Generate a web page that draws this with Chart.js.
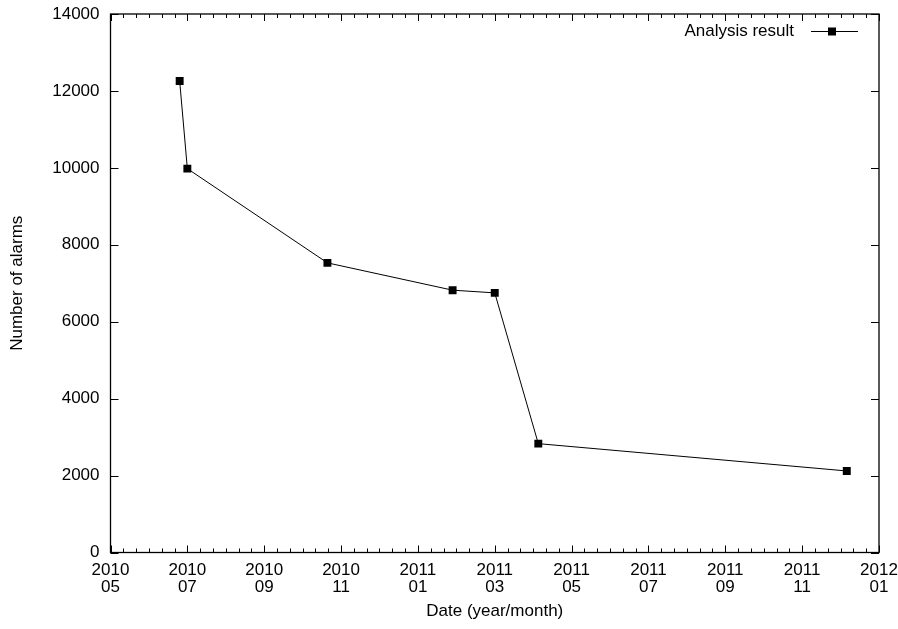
<!DOCTYPE html>
<html>
<head>
<meta charset="utf-8">
<script src="https://cdn.jsdelivr.net/npm/chart.js@4/dist/chart.umd.min.js"></script>
<style>
  html, body { margin: 0; padding: 0; background: #fff; }
  #wrap { width: 898px; height: 629px; }
</style>
</head>
<body>
<div id="wrap"><canvas id="alarmChart"></canvas></div>
<script>
// dates of each analysis run and the alarm count it produced
const DATES  = ['2010-06-25', '2010-07-01', '2010-10-21', '2011-01-29', '2011-03-01', '2011-04-05', '2011-12-06'];
const ALARMS = [12260, 9980, 7530, 6820, 6750, 2830, 2120];

const SERIES_LABEL = 'Analysis result';
const X_TITLE = 'Date (year/month)';
const Y_TITLE = 'Number of alarms';

// x axis runs in months counted from 2010/05
const START_YEAR = 2010, START_MONTH = 5;
const X_MAX = 20;

function monthsFromStart(str) {
  const [y, m, d] = str.split('-').map(Number);
  const days = new Date(y, m, 0).getDate();
  return (y - START_YEAR) * 12 + (m - START_MONTH) + (d - 1) / days;
}

function tickLabel(v) {
  const total = START_MONTH - 1 + Math.round(v);
  const y = START_YEAR + Math.floor(total / 12);
  const m = (total % 12) + 1;
  return [String(y), String(m).padStart(2, '0')];
}

const points = DATES.map((d, i) => ({ x: monthsFromStart(d), y: ALARMS[i] }));

const FONT = 'Liberation Sans, Arial, Helvetica, sans-serif';

// gnuplot style frame: box + inward ticks on all four sides
const framePlugin = {
  id: 'frame',
  afterDatasetsDraw(chart) {
    const { ctx, chartArea: a, scales: { x, y } } = chart;
    ctx.save();
    ctx.strokeStyle = '#000';
    ctx.lineWidth = 1;
    ctx.beginPath();
    for (let k = 0; k <= X_MAX * 3; k++) {
      const px = Math.round(x.getPixelForValue(k / 3)) + 0.5;
      const len = k % 6 === 0 ? 7 : 4;
      ctx.moveTo(px, a.bottom); ctx.lineTo(px, a.bottom - len);
      ctx.moveTo(px, a.top);    ctx.lineTo(px, a.top + len);
    }
    y.ticks.forEach(t => {
      const py = Math.round(y.getPixelForValue(t.value)) + 0.5;
      ctx.moveTo(a.left, py);  ctx.lineTo(a.left + 8, py);
      ctx.moveTo(a.right, py); ctx.lineTo(a.right - 8, py);
    });
    ctx.stroke();
    ctx.lineWidth = 1.3;
    ctx.strokeRect(a.left, a.top, a.right - a.left, a.bottom - a.top);

    // key, top right
    const ly = a.top + 17;
    ctx.font = '17px ' + FONT;
    ctx.fillStyle = '#000';
    ctx.textAlign = 'right';
    ctx.textBaseline = 'middle';
    ctx.fillText(SERIES_LABEL, 794, ly);
    ctx.lineWidth = 1;
    ctx.beginPath();
    ctx.moveTo(811, ly + 0.5); ctx.lineTo(858, ly + 0.5);
    ctx.stroke();
    ctx.fillRect(828, ly - 3.5, 8, 8);
    ctx.restore();
  }
};

new Chart(document.getElementById('alarmChart'), {
  type: 'line',
  data: {
    datasets: [{
      label: SERIES_LABEL,
      data: points,
      borderColor: '#000',
      borderWidth: 1,
      backgroundColor: '#000',
      pointStyle: 'rect',
      pointRadius: 5.6,
      pointBorderWidth: 0,
      pointBackgroundColor: '#000',
      tension: 0,
      fill: false,
    }]
  },
  options: {
    responsive: true,
    maintainAspectRatio: false,
    animation: false,
    layout: { padding: { top: 14, right: 19, left: 0, bottom: 0 } },
    plugins: { legend: { display: false }, tooltip: { enabled: false } },
    scales: {
      x: {
        type: 'linear',
        min: 0,
        max: X_MAX,
        grid: { display: false, drawTicks: false },
        border: { display: false },
        afterFit: s => { s.height = 76.5; s.paddingLeft = 0; s.paddingRight = 0; },
        afterBuildTicks: s => { s.ticks = []; for (let v = 0; v <= X_MAX; v += 2) s.ticks.push({ value: v }); },
        ticks: {
          color: '#000',
          padding: 9.5,
          maxRotation: 0,
          autoSkip: false,
          font: { family: FONT, size: 17, lineHeight: 1.0 },
          callback: v => tickLabel(v),
        },
        title: {
          display: true,
          text: X_TITLE,
          color: '#000',
          font: { family: FONT, size: 17, lineHeight: 1.2 },
          padding: { top: 0, bottom: 7.8 },
        }
      },
      y: {
        min: 0,
        max: 14000,
        grid: { display: false, drawTicks: false },
        border: { display: false },
        afterFit: s => { s.width = 110.5; s.paddingTop = 0; s.paddingBottom = 0; },
        ticks: {
          color: '#000',
          padding: 11,
          stepSize: 2000,
          font: { family: FONT, size: 17 },
          callback: v => String(v),
        },
        title: {
          display: true,
          text: Y_TITLE,
          color: '#000',
          font: { family: FONT, size: 17, lineHeight: 1.2 },
          padding: { top: 6.8, bottom: 0 },
        }
      }
    }
  },
  plugins: [framePlugin]
});
</script>
</body>
</html>
